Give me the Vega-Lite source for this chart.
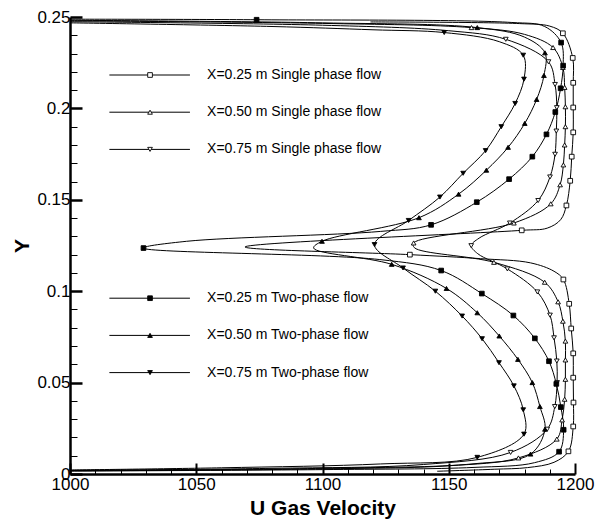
{
  "$schema": "https://vega.github.io/schema/vega-lite/v6.json",
  "width": 505,
  "height": 457,
  "autosize": {"type": "none"},
  "padding": {"left": 70, "top": 17, "right": 21, "bottom": 49},
  "background": "white",
  "config": {
    "view": {"stroke": null},
    "font": "Liberation Sans",
    "axis": {
      "grid": false,
      "domainColor": "black",
      "tickColor": "black",
      "labelColor": "black",
      "titleColor": "black",
      "labelFont": "Liberation Sans",
      "titleFont": "Liberation Sans",
      "labelOverlap": false,
      "labelFlush": false,
      "labelBound": false
    }
  },
  "layer": [
    {
      "data": {
        "values": [
          {"series": "X=0.25 m Single phase flow", "u": 1145.4, "y": 0.0015, "station": 0},
          {"series": "X=0.25 m Single phase flow", "u": 1168.0, "y": 0.0026, "station": 0},
          {"series": "X=0.25 m Single phase flow", "u": 1181.2, "y": 0.0035, "station": 0},
          {"series": "X=0.25 m Single phase flow", "u": 1191.7, "y": 0.0064, "station": 0},
          {"series": "X=0.25 m Single phase flow", "u": 1197.4, "y": 0.0124, "station": 1},
          {"series": "X=0.25 m Single phase flow", "u": 1199.3, "y": 0.0260, "station": 1},
          {"series": "X=0.25 m Single phase flow", "u": 1199.4, "y": 0.0391, "station": 1},
          {"series": "X=0.25 m Single phase flow", "u": 1199.3, "y": 0.0527, "station": 1},
          {"series": "X=0.25 m Single phase flow", "u": 1199.3, "y": 0.0660, "station": 1},
          {"series": "X=0.25 m Single phase flow", "u": 1198.5, "y": 0.0796, "station": 1},
          {"series": "X=0.25 m Single phase flow", "u": 1197.7, "y": 0.0931, "station": 1},
          {"series": "X=0.25 m Single phase flow", "u": 1195.4, "y": 0.1064, "station": 1},
          {"series": "X=0.25 m Single phase flow", "u": 1191.7, "y": 0.1109, "station": 0},
          {"series": "X=0.25 m Single phase flow", "u": 1182.4, "y": 0.1155, "station": 0},
          {"series": "X=0.25 m Single phase flow", "u": 1162.6, "y": 0.1178, "station": 0},
          {"series": "X=0.25 m Single phase flow", "u": 1134.6, "y": 0.1200, "station": 1},
          {"series": "X=0.25 m Single phase flow", "u": 1069.3, "y": 0.1242, "station": 0},
          {"series": "X=0.25 m Single phase flow", "u": 1178.9, "y": 0.1333, "station": 1},
          {"series": "X=0.25 m Single phase flow", "u": 1189.0, "y": 0.1345, "station": 0},
          {"series": "X=0.25 m Single phase flow", "u": 1194.3, "y": 0.1391, "station": 0},
          {"series": "X=0.25 m Single phase flow", "u": 1196.6, "y": 0.1469, "station": 1},
          {"series": "X=0.25 m Single phase flow", "u": 1198.1, "y": 0.1604, "station": 1},
          {"series": "X=0.25 m Single phase flow", "u": 1198.7, "y": 0.1736, "station": 1},
          {"series": "X=0.25 m Single phase flow", "u": 1199.3, "y": 0.1869, "station": 1},
          {"series": "X=0.25 m Single phase flow", "u": 1199.3, "y": 0.2005, "station": 1},
          {"series": "X=0.25 m Single phase flow", "u": 1199.3, "y": 0.2140, "station": 1},
          {"series": "X=0.25 m Single phase flow", "u": 1199.1, "y": 0.2276, "station": 1},
          {"series": "X=0.25 m Single phase flow", "u": 1195.2, "y": 0.2411, "station": 1},
          {"series": "X=0.25 m Single phase flow", "u": 1190.0, "y": 0.2450, "station": 0},
          {"series": "X=0.25 m Single phase flow", "u": 1178.0, "y": 0.2464, "station": 0},
          {"series": "X=0.25 m Single phase flow", "u": 1119.0, "y": 0.2473, "station": 0},

          {"series": "X=0.50 m Single phase flow", "u": 1000.0, "y": 0.0017, "station": 0},
          {"series": "X=0.50 m Single phase flow", "u": 1100.0, "y": 0.0028, "station": 0},
          {"series": "X=0.50 m Single phase flow", "u": 1150.0, "y": 0.0045, "station": 0},
          {"series": "X=0.50 m Single phase flow", "u": 1177.6, "y": 0.0088, "station": 1},
          {"series": "X=0.50 m Single phase flow", "u": 1192.8, "y": 0.0191, "station": 1},
          {"series": "X=0.50 m Single phase flow", "u": 1194.9, "y": 0.0296, "station": 1},
          {"series": "X=0.50 m Single phase flow", "u": 1195.9, "y": 0.0409, "station": 1},
          {"series": "X=0.50 m Single phase flow", "u": 1196.2, "y": 0.0518, "station": 1},
          {"series": "X=0.50 m Single phase flow", "u": 1196.2, "y": 0.0624, "station": 1},
          {"series": "X=0.50 m Single phase flow", "u": 1196.2, "y": 0.0727, "station": 1},
          {"series": "X=0.50 m Single phase flow", "u": 1195.2, "y": 0.0836, "station": 1},
          {"series": "X=0.50 m Single phase flow", "u": 1193.3, "y": 0.0942, "station": 1},
          {"series": "X=0.50 m Single phase flow", "u": 1188.0, "y": 0.1049, "station": 1},
          {"series": "X=0.50 m Single phase flow", "u": 1167.9, "y": 0.1158, "station": 1},
          {"series": "X=0.50 m Single phase flow", "u": 1136.4, "y": 0.1238, "station": 0},
          {"series": "X=0.50 m Single phase flow", "u": 1136.1, "y": 0.1264, "station": 1},
          {"series": "X=0.50 m Single phase flow", "u": 1175.8, "y": 0.1373, "station": 1},
          {"series": "X=0.50 m Single phase flow", "u": 1190.4, "y": 0.1478, "station": 1},
          {"series": "X=0.50 m Single phase flow", "u": 1194.1, "y": 0.1582, "station": 1},
          {"series": "X=0.50 m Single phase flow", "u": 1195.4, "y": 0.1691, "station": 1},
          {"series": "X=0.50 m Single phase flow", "u": 1195.9, "y": 0.1800, "station": 1},
          {"series": "X=0.50 m Single phase flow", "u": 1196.2, "y": 0.1900, "station": 1},
          {"series": "X=0.50 m Single phase flow", "u": 1196.2, "y": 0.2009, "station": 1},
          {"series": "X=0.50 m Single phase flow", "u": 1195.9, "y": 0.2115, "station": 1},
          {"series": "X=0.50 m Single phase flow", "u": 1195.2, "y": 0.2224, "station": 1},
          {"series": "X=0.50 m Single phase flow", "u": 1191.3, "y": 0.2333, "station": 1},
          {"series": "X=0.50 m Single phase flow", "u": 1180.0, "y": 0.2405, "station": 0},
          {"series": "X=0.50 m Single phase flow", "u": 1159.0, "y": 0.2442, "station": 1},
          {"series": "X=0.50 m Single phase flow", "u": 1100.0, "y": 0.2465, "station": 0},
          {"series": "X=0.50 m Single phase flow", "u": 1000.0, "y": 0.2479, "station": 0},

          {"series": "X=0.75 m Single phase flow", "u": 1000.0, "y": 0.0020, "station": 0},
          {"series": "X=0.75 m Single phase flow", "u": 1080.0, "y": 0.0031, "station": 0},
          {"series": "X=0.75 m Single phase flow", "u": 1140.0, "y": 0.0052, "station": 0},
          {"series": "X=0.75 m Single phase flow", "u": 1174.5, "y": 0.0118, "station": 1},
          {"series": "X=0.75 m Single phase flow", "u": 1189.0, "y": 0.0245, "station": 1},
          {"series": "X=0.75 m Single phase flow", "u": 1192.0, "y": 0.0369, "station": 1},
          {"series": "X=0.75 m Single phase flow", "u": 1192.9, "y": 0.0500, "station": 1},
          {"series": "X=0.75 m Single phase flow", "u": 1192.8, "y": 0.0618, "station": 1},
          {"series": "X=0.75 m Single phase flow", "u": 1191.7, "y": 0.0745, "station": 1},
          {"series": "X=0.75 m Single phase flow", "u": 1190.1, "y": 0.0869, "station": 1},
          {"series": "X=0.75 m Single phase flow", "u": 1185.1, "y": 0.0996, "station": 1},
          {"series": "X=0.75 m Single phase flow", "u": 1173.2, "y": 0.1122, "station": 1},
          {"series": "X=0.75 m Single phase flow", "u": 1161.5, "y": 0.1205, "station": 0},
          {"series": "X=0.75 m Single phase flow", "u": 1158.9, "y": 0.1249, "station": 1},
          {"series": "X=0.75 m Single phase flow", "u": 1162.0, "y": 0.1290, "station": 0},
          {"series": "X=0.75 m Single phase flow", "u": 1174.2, "y": 0.1373, "station": 1},
          {"series": "X=0.75 m Single phase flow", "u": 1185.4, "y": 0.1496, "station": 1},
          {"series": "X=0.75 m Single phase flow", "u": 1190.1, "y": 0.1625, "station": 1},
          {"series": "X=0.75 m Single phase flow", "u": 1192.1, "y": 0.1749, "station": 1},
          {"series": "X=0.75 m Single phase flow", "u": 1192.6, "y": 0.1876, "station": 1},
          {"series": "X=0.75 m Single phase flow", "u": 1192.8, "y": 0.2004, "station": 1},
          {"series": "X=0.75 m Single phase flow", "u": 1192.1, "y": 0.2131, "station": 1},
          {"series": "X=0.75 m Single phase flow", "u": 1189.5, "y": 0.2255, "station": 1},
          {"series": "X=0.75 m Single phase flow", "u": 1172.6, "y": 0.2378, "station": 1},
          {"series": "X=0.75 m Single phase flow", "u": 1150.0, "y": 0.2425, "station": 0},
          {"series": "X=0.75 m Single phase flow", "u": 1100.0, "y": 0.2455, "station": 0},
          {"series": "X=0.75 m Single phase flow", "u": 1000.0, "y": 0.2474, "station": 0},

          {"series": "X=0.25 m Two-phase flow", "u": 1000.0, "y": 0.0016, "station": 0},
          {"series": "X=0.25 m Two-phase flow", "u": 1100.0, "y": 0.0024, "station": 0},
          {"series": "X=0.25 m Two-phase flow", "u": 1160.0, "y": 0.0036, "station": 0},
          {"series": "X=0.25 m Two-phase flow", "u": 1184.0, "y": 0.0062, "station": 0},
          {"series": "X=0.25 m Two-phase flow", "u": 1193.7, "y": 0.0122, "station": 1},
          {"series": "X=0.25 m Two-phase flow", "u": 1195.5, "y": 0.0242, "station": 1},
          {"series": "X=0.25 m Two-phase flow", "u": 1194.4, "y": 0.0366, "station": 1},
          {"series": "X=0.25 m Two-phase flow", "u": 1192.6, "y": 0.0493, "station": 1},
          {"series": "X=0.25 m Two-phase flow", "u": 1189.7, "y": 0.0617, "station": 1},
          {"series": "X=0.25 m Two-phase flow", "u": 1184.1, "y": 0.0742, "station": 1},
          {"series": "X=0.25 m Two-phase flow", "u": 1175.6, "y": 0.0867, "station": 1},
          {"series": "X=0.25 m Two-phase flow", "u": 1163.1, "y": 0.0987, "station": 1},
          {"series": "X=0.25 m Two-phase flow", "u": 1147.0, "y": 0.1113, "station": 1},
          {"series": "X=0.25 m Two-phase flow", "u": 1122.7, "y": 0.1173, "station": 0},
          {"series": "X=0.25 m Two-phase flow", "u": 1029.1, "y": 0.1236, "station": 1},
          {"series": "X=0.25 m Two-phase flow", "u": 1046.2, "y": 0.1273, "station": 0},
          {"series": "X=0.25 m Two-phase flow", "u": 1122.9, "y": 0.1327, "station": 0},
          {"series": "X=0.25 m Two-phase flow", "u": 1143.0, "y": 0.1363, "station": 1},
          {"series": "X=0.25 m Two-phase flow", "u": 1161.1, "y": 0.1487, "station": 1},
          {"series": "X=0.25 m Two-phase flow", "u": 1173.9, "y": 0.1613, "station": 1},
          {"series": "X=0.25 m Two-phase flow", "u": 1183.1, "y": 0.1736, "station": 1},
          {"series": "X=0.25 m Two-phase flow", "u": 1188.7, "y": 0.1858, "station": 1},
          {"series": "X=0.25 m Two-phase flow", "u": 1192.2, "y": 0.1980, "station": 1},
          {"series": "X=0.25 m Two-phase flow", "u": 1194.3, "y": 0.2110, "station": 1},
          {"series": "X=0.25 m Two-phase flow", "u": 1195.3, "y": 0.2234, "station": 1},
          {"series": "X=0.25 m Two-phase flow", "u": 1194.5, "y": 0.2360, "station": 1},
          {"series": "X=0.25 m Two-phase flow", "u": 1188.0, "y": 0.2448, "station": 0},
          {"series": "X=0.25 m Two-phase flow", "u": 1175.0, "y": 0.2470, "station": 0},
          {"series": "X=0.25 m Two-phase flow", "u": 1073.9, "y": 0.2485, "station": 1},
          {"series": "X=0.25 m Two-phase flow", "u": 1000.0, "y": 0.2488, "station": 0},

          {"series": "X=0.50 m Two-phase flow", "u": 1000.0, "y": 0.0019, "station": 0},
          {"series": "X=0.50 m Two-phase flow", "u": 1100.0, "y": 0.0031, "station": 0},
          {"series": "X=0.50 m Two-phase flow", "u": 1160.0, "y": 0.0056, "station": 0},
          {"series": "X=0.50 m Two-phase flow", "u": 1182.4, "y": 0.0109, "station": 1},
          {"series": "X=0.50 m Two-phase flow", "u": 1188.1, "y": 0.0245, "station": 1},
          {"series": "X=0.50 m Two-phase flow", "u": 1186.1, "y": 0.0369, "station": 1},
          {"series": "X=0.50 m Two-phase flow", "u": 1183.1, "y": 0.0500, "station": 1},
          {"series": "X=0.50 m Two-phase flow", "u": 1177.4, "y": 0.0627, "station": 1},
          {"series": "X=0.50 m Two-phase flow", "u": 1170.0, "y": 0.0755, "station": 1},
          {"series": "X=0.50 m Two-phase flow", "u": 1161.3, "y": 0.0882, "station": 1},
          {"series": "X=0.50 m Two-phase flow", "u": 1149.1, "y": 0.1015, "station": 1},
          {"series": "X=0.50 m Two-phase flow", "u": 1127.4, "y": 0.1147, "station": 1},
          {"series": "X=0.50 m Two-phase flow", "u": 1096.5, "y": 0.1236, "station": 0},
          {"series": "X=0.50 m Two-phase flow", "u": 1099.8, "y": 0.1273, "station": 1},
          {"series": "X=0.50 m Two-phase flow", "u": 1138.2, "y": 0.1402, "station": 1},
          {"series": "X=0.50 m Two-phase flow", "u": 1153.9, "y": 0.1531, "station": 1},
          {"series": "X=0.50 m Two-phase flow", "u": 1164.9, "y": 0.1662, "station": 1},
          {"series": "X=0.50 m Two-phase flow", "u": 1173.5, "y": 0.1787, "station": 1},
          {"series": "X=0.50 m Two-phase flow", "u": 1180.1, "y": 0.1918, "station": 1},
          {"series": "X=0.50 m Two-phase flow", "u": 1184.8, "y": 0.2049, "station": 1},
          {"series": "X=0.50 m Two-phase flow", "u": 1187.7, "y": 0.2180, "station": 1},
          {"series": "X=0.50 m Two-phase flow", "u": 1188.1, "y": 0.2304, "station": 1},
          {"series": "X=0.50 m Two-phase flow", "u": 1180.0, "y": 0.2390, "station": 0},
          {"series": "X=0.50 m Two-phase flow", "u": 1161.3, "y": 0.2442, "station": 1},
          {"series": "X=0.50 m Two-phase flow", "u": 1100.0, "y": 0.2468, "station": 0},
          {"series": "X=0.50 m Two-phase flow", "u": 1000.0, "y": 0.2482, "station": 0},

          {"series": "X=0.75 m Two-phase flow", "u": 1000.0, "y": 0.0022, "station": 0},
          {"series": "X=0.75 m Two-phase flow", "u": 1060.0, "y": 0.0034, "station": 0},
          {"series": "X=0.75 m Two-phase flow", "u": 1123.0, "y": 0.0055, "station": 0},
          {"series": "X=0.75 m Two-phase flow", "u": 1161.3, "y": 0.0091, "station": 1},
          {"series": "X=0.75 m Two-phase flow", "u": 1179.8, "y": 0.0218, "station": 1},
          {"series": "X=0.75 m Two-phase flow", "u": 1179.5, "y": 0.0351, "station": 1},
          {"series": "X=0.75 m Two-phase flow", "u": 1175.8, "y": 0.0482, "station": 1},
          {"series": "X=0.75 m Two-phase flow", "u": 1169.9, "y": 0.0609, "station": 1},
          {"series": "X=0.75 m Two-phase flow", "u": 1163.2, "y": 0.0740, "station": 1},
          {"series": "X=0.75 m Two-phase flow", "u": 1155.3, "y": 0.0864, "station": 1},
          {"series": "X=0.75 m Two-phase flow", "u": 1144.7, "y": 0.1000, "station": 1},
          {"series": "X=0.75 m Two-phase flow", "u": 1131.9, "y": 0.1127, "station": 1},
          {"series": "X=0.75 m Two-phase flow", "u": 1120.6, "y": 0.1255, "station": 1},
          {"series": "X=0.75 m Two-phase flow", "u": 1134.1, "y": 0.1387, "station": 1},
          {"series": "X=0.75 m Two-phase flow", "u": 1146.5, "y": 0.1515, "station": 1},
          {"series": "X=0.75 m Two-phase flow", "u": 1155.7, "y": 0.1645, "station": 1},
          {"series": "X=0.75 m Two-phase flow", "u": 1164.6, "y": 0.1769, "station": 1},
          {"series": "X=0.75 m Two-phase flow", "u": 1170.8, "y": 0.1900, "station": 1},
          {"series": "X=0.75 m Two-phase flow", "u": 1176.3, "y": 0.2027, "station": 1},
          {"series": "X=0.75 m Two-phase flow", "u": 1179.8, "y": 0.2160, "station": 1},
          {"series": "X=0.75 m Two-phase flow", "u": 1179.5, "y": 0.2291, "station": 1},
          {"series": "X=0.75 m Two-phase flow", "u": 1170.0, "y": 0.2365, "station": 0},
          {"series": "X=0.75 m Two-phase flow", "u": 1148.2, "y": 0.2415, "station": 1},
          {"series": "X=0.75 m Two-phase flow", "u": 1120.0, "y": 0.2430, "station": 0},
          {"series": "X=0.75 m Two-phase flow", "u": 1080.0, "y": 0.2448, "station": 0},
          {"series": "X=0.75 m Two-phase flow", "u": 1000.0, "y": 0.2468, "station": 0}
        ]
      },
      "encoding": {
        "x": {
          "field": "u",
          "type": "quantitative",
          "scale": {"domain": [1000, 1200], "nice": false, "zero": false},
          "axis": {
            "title": "U Gas Velocity",
            "values": [1000, 1010, 1020, 1030, 1040, 1050, 1060, 1070, 1080, 1090, 1100, 1110, 1120, 1130, 1140, 1150, 1160, 1170, 1180, 1190, 1200],
            "labelExpr": "datum.value % 50 === 0 ? '' + datum.value : ''",
            "tickSize": {"condition": {"test": "datum.value % 50 === 0", "value": -11}, "value": -5},
            "tickWidth": {"condition": {"test": "datum.value % 50 === 0", "value": 2}, "value": 1},
            "domainWidth": 2.5, "labelFontSize": 17, "labelPadding": 13,
            "titleFontSize": 21, "titleFontWeight": "bold", "titlePadding": -1
          }
        },
        "y": {
          "field": "y",
          "type": "quantitative",
          "scale": {"domain": [0, 0.25], "nice": false, "zero": false},
          "axis": {
            "title": "Y",
            "values": [0, 0.01, 0.02, 0.03, 0.04, 0.05, 0.06, 0.07, 0.08, 0.09, 0.1, 0.11, 0.12, 0.13, 0.14, 0.15, 0.16, 0.17, 0.18, 0.19, 0.2, 0.21, 0.22, 0.23, 0.24, 0.25],
            "labelExpr": "round(datum.value * 100) % 5 === 0 ? '' + datum.value : ''",
            "tickSize": {"condition": {"test": "round(datum.value * 100) % 5 === 0", "value": -12}, "value": -7},
            "tickWidth": {"condition": {"test": "round(datum.value * 100) % 5 === 0", "value": 2.5}, "value": 1},
            "domainWidth": 2.5, "labelFontSize": 17, "labelPadding": 12,
            "titleFontSize": 21, "titleFontWeight": "bold", "titlePadding": 4
          }
        }
      },
      "layer": [
        {
          "mark": {"type": "line", "interpolate": "catmull-rom", "stroke": "black", "strokeWidth": 1},
          "encoding": {
            "detail": {"field": "series", "type": "nominal"},
            "order": {"field": "y", "type": "quantitative"}
          }
        },
        {
          "transform": [{"filter": "datum.station === 1"}],
          "mark": {"type": "point", "filled": true, "stroke": "black", "strokeWidth": 0.9, "size": 22, "opacity": 1},
          "encoding": {
            "shape": {
              "field": "series",
              "type": "nominal",
              "scale": {
                "domain": ["X=0.25 m Single phase flow", "X=0.50 m Single phase flow", "X=0.75 m Single phase flow", "X=0.25 m Two-phase flow", "X=0.50 m Two-phase flow", "X=0.75 m Two-phase flow"],
                "range": ["square", "triangle-up", "triangle-down", "square", "triangle-up", "triangle-down"]
              },
              "legend": null
            },
            "fill": {"condition": {"test": "indexof(datum.series, 'Single') >= 0", "value": "white"}, "value": "black"}
          }
        },
        {
          "data": {"values": [{"note": "Grid Size : 111*162 grid points"}]},
          "mark": {"type": "text", "align": "left", "baseline": "middle", "font": "Liberation Sans", "fontSize": 14, "color": "black"},
          "encoding": {
            "x": {
              "datum": 1016.5, "type": "quantitative",
              "axis": {
                "title": "U Gas Velocity",
                "values": [1000, 1010, 1020, 1030, 1040, 1050, 1060, 1070, 1080, 1090, 1100, 1110, 1120, 1130, 1140, 1150, 1160, 1170, 1180, 1190, 1200],
                "labelExpr": "datum.value % 50 === 0 ? '' + datum.value : ''",
                "tickSize": {"condition": {"test": "datum.value % 50 === 0", "value": -11}, "value": -5},
                "tickWidth": {"condition": {"test": "datum.value % 50 === 0", "value": 2}, "value": 1},
                "domainWidth": 2.5, "labelFontSize": 17, "labelPadding": 13,
                "titleFontSize": 21, "titleFontWeight": "bold", "titlePadding": -1
              }
            },
            "y": {
              "datum": 0.15, "type": "quantitative",
              "axis": {
                "title": "Y",
                "values": [0, 0.01, 0.02, 0.03, 0.04, 0.05, 0.06, 0.07, 0.08, 0.09, 0.1, 0.11, 0.12, 0.13, 0.14, 0.15, 0.16, 0.17, 0.18, 0.19, 0.2, 0.21, 0.22, 0.23, 0.24, 0.25],
                "labelExpr": "round(datum.value * 100) % 5 === 0 ? '' + datum.value : ''",
                "tickSize": {"condition": {"test": "round(datum.value * 100) % 5 === 0", "value": -12}, "value": -7},
                "tickWidth": {"condition": {"test": "round(datum.value * 100) % 5 === 0", "value": 2.5}, "value": 1},
                "domainWidth": 2.5, "labelFontSize": 17, "labelPadding": 12,
                "titleFontSize": 21, "titleFontWeight": "bold", "titlePadding": 4
              }
            },
            "text": {"field": "note", "type": "nominal"}
          }
        }
      ]
    },
    {
      "data": {
        "values": [
          {"series": "X=0.25 m Single phase flow"},
          {"series": "X=0.50 m Single phase flow"},
          {"series": "X=0.75 m Single phase flow"},
          {"series": "X=0.25 m Two-phase flow"},
          {"series": "X=0.50 m Two-phase flow"},
          {"series": "X=0.75 m Two-phase flow"}
        ]
      },
      "encoding": {
        "y": {
          "field": "series",
          "type": "nominal",
          "scale": {
            "type": "point",
            "domain": ["X=0.25 m Single phase flow", "X=0.50 m Single phase flow", "X=0.75 m Single phase flow", "spacer 1", "spacer 2", "spacer 3", "X=0.25 m Two-phase flow", "X=0.50 m Two-phase flow", "X=0.75 m Two-phase flow"],
            "range": [58, 355.6],
            "padding": 0
          },
          "axis": {"domain": false, "ticks": false, "labels": false, "grid": false, "title": null}
        }
      },
      "layer": [
        {
          "mark": {"type": "rule", "stroke": "black", "strokeWidth": 1},
          "encoding": {
            "x": {
              "datum": 1015.6, "type": "quantitative",
              "axis": {
                "title": "U Gas Velocity",
                "values": [1000, 1010, 1020, 1030, 1040, 1050, 1060, 1070, 1080, 1090, 1100, 1110, 1120, 1130, 1140, 1150, 1160, 1170, 1180, 1190, 1200],
                "labelExpr": "datum.value % 50 === 0 ? '' + datum.value : ''",
                "tickSize": {"condition": {"test": "datum.value % 50 === 0", "value": -11}, "value": -5},
                "tickWidth": {"condition": {"test": "datum.value % 50 === 0", "value": 2}, "value": 1},
                "domainWidth": 2.5, "labelFontSize": 17, "labelPadding": 13,
                "titleFontSize": 21, "titleFontWeight": "bold", "titlePadding": -1
              }
            },
            "x2": {"datum": 1047.5}
          }
        },
        {
          "mark": {"type": "point", "filled": true, "stroke": "black", "strokeWidth": 0.9, "size": 22, "opacity": 1},
          "encoding": {
            "x": {
              "datum": 1031.7, "type": "quantitative",
              "axis": {
                "title": "U Gas Velocity",
                "values": [1000, 1010, 1020, 1030, 1040, 1050, 1060, 1070, 1080, 1090, 1100, 1110, 1120, 1130, 1140, 1150, 1160, 1170, 1180, 1190, 1200],
                "labelExpr": "datum.value % 50 === 0 ? '' + datum.value : ''",
                "tickSize": {"condition": {"test": "datum.value % 50 === 0", "value": -11}, "value": -5},
                "tickWidth": {"condition": {"test": "datum.value % 50 === 0", "value": 2}, "value": 1},
                "domainWidth": 2.5, "labelFontSize": 17, "labelPadding": 13,
                "titleFontSize": 21, "titleFontWeight": "bold", "titlePadding": -1
              }
            },
            "shape": {"field": "series", "type": "nominal", "legend": null},
            "fill": {"condition": {"test": "indexof(datum.series, 'Single') >= 0", "value": "white"}, "value": "black"}
          }
        },
        {
          "mark": {"type": "text", "align": "left", "baseline": "middle", "font": "Liberation Sans", "fontSize": 14, "color": "black"},
          "encoding": {
            "x": {
              "datum": 1054.3, "type": "quantitative",
              "axis": {
                "title": "U Gas Velocity",
                "values": [1000, 1010, 1020, 1030, 1040, 1050, 1060, 1070, 1080, 1090, 1100, 1110, 1120, 1130, 1140, 1150, 1160, 1170, 1180, 1190, 1200],
                "labelExpr": "datum.value % 50 === 0 ? '' + datum.value : ''",
                "tickSize": {"condition": {"test": "datum.value % 50 === 0", "value": -11}, "value": -5},
                "tickWidth": {"condition": {"test": "datum.value % 50 === 0", "value": 2}, "value": 1},
                "domainWidth": 2.5, "labelFontSize": 17, "labelPadding": 13,
                "titleFontSize": 21, "titleFontWeight": "bold", "titlePadding": -1
              }
            },
            "text": {"field": "series", "type": "nominal"}
          }
        }
      ]
    }
  ],
  "resolve": {"scale": {"y": "independent"}}
}
